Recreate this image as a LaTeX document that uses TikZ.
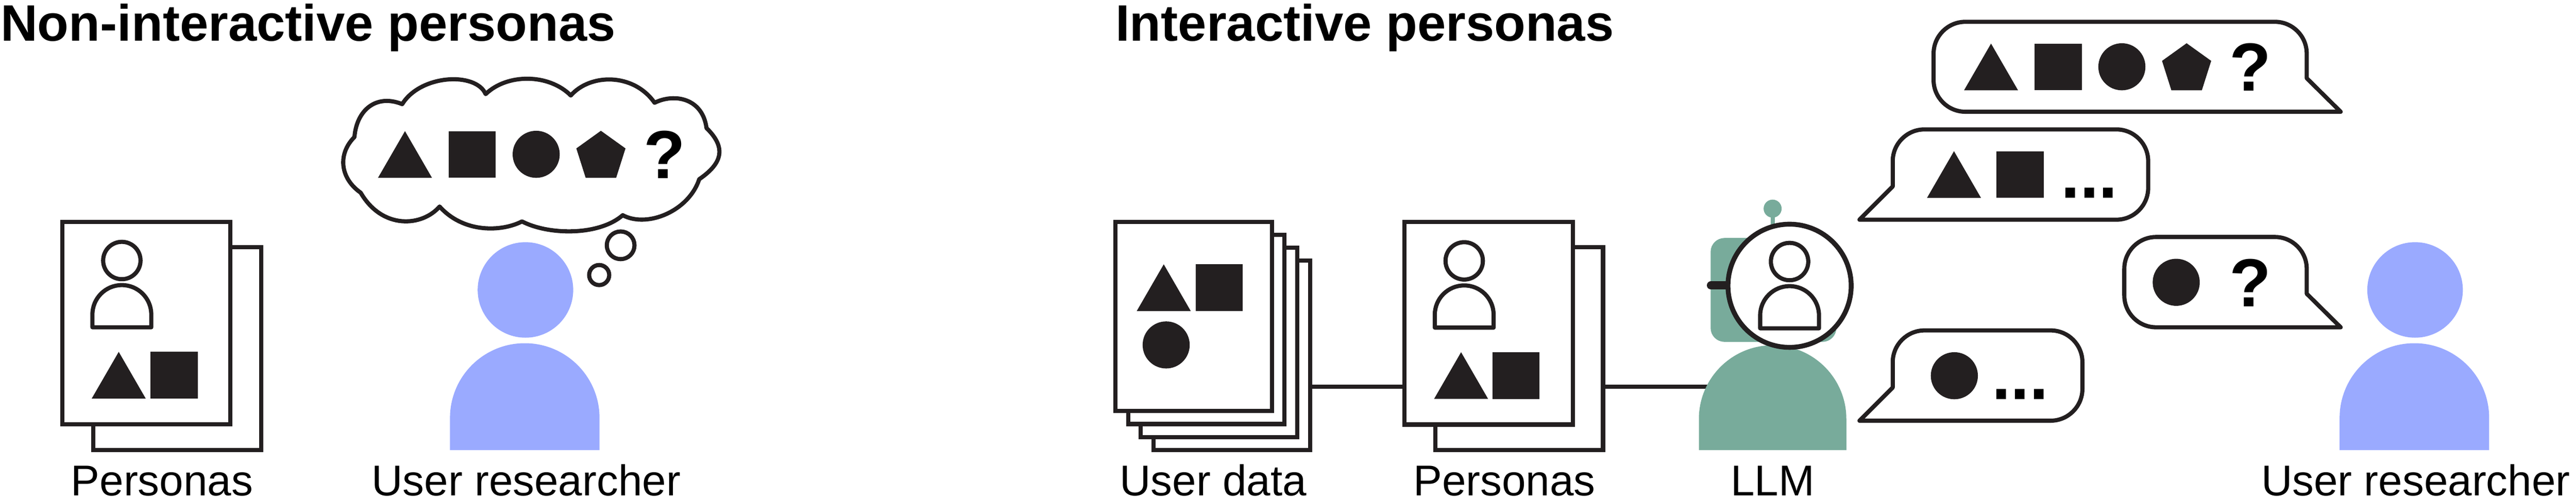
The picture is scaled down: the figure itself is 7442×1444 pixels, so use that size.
\documentclass[tikz,border=0pt]{standalone}
\usepackage{fontspec}
\setmainfont{Liberation Sans}
\usepackage{tikz}
\definecolor{ink}{HTML}{231F20}
\definecolor{userblue}{HTML}{9AAAFF}
\definecolor{botgreen}{HTML}{78AB9B}
\tikzset{
	page/.style={rectangle, draw=ink, fill=white, line width=0.12cm, inner sep=0pt},
	outline/.style={draw=ink, line width=0.12cm, line join=round},
	wire/.style={draw=ink, line width=0.12cm},
	heading/.style={anchor=base west, inner sep=0pt, font=\fontsize{42.1}{48}\selectfont\bfseries},
	caption/.style={anchor=base, inner sep=0pt, font=\fontsize{35.4}{40}\selectfont},
	qmark/.style={anchor=base, inner sep=0pt, font=\fontsize{56}{60}\selectfont\bfseries},
	more/.style={anchor=base, inner sep=0pt, font=\fontsize{55.7}{60}\selectfont\bfseries}
}
\newcommand{\tri}[2]{\fill[ink] (#1-78,#2) -- (#1+78,#2) -- (#1,#2-135) -- cycle;}
\newcommand{\sqr}[2]{\fill[ink] (#1-68,#2) rectangle (#1+68,#2-135);}
\newcommand{\disc}[2]{\fill[ink] (#1,#2-68) circle (68);}
\newcommand{\pent}[2]{\fill[ink] (#1,#2-136) -- (#1+71,#2-85) -- (#1+44,#2) -- (#1-44,#2) -- (#1-71,#2-85) -- cycle;}
\newcommand{\personicon}[2]{
	\draw[outline] (#1,#2) circle (54);
	\draw[outline] (#1-85,#2+193) -- (#1-85,#2+156) arc (180:360:85) -- (#1+85,#2+193) -- cycle;
}
% fill colour, centre, half width, top
\newcommand{\torso}[4]{\fill[#1] (#2-#3,1301) -- (#2-#3,#4+#3) arc (180:360:#3) -- (#2+#3,1301) -- cycle;}
% left, right, top, bottom
\newcommand{\bubbleright}[4]{
	\draw[outline, fill=white] (#1+92,#3) -- (#2-92,#3) arc (270:360:92) -- (#2,#4-97)
		-- (#2+98,#4) -- (#1+92,#4) arc (90:180:92) -- (#1,#3+92) arc (180:270:92) -- cycle;
}
\newcommand{\bubbleleft}[4]{
	\draw[outline, fill=white] (#1+92,#3) -- (#2-92,#3) arc (270:360:92) -- (#2,#4-92)
		arc (0:90:92) -- (#1-96,#4) -- (#1,#4-96) -- (#1,#3+92) arc (180:270:92) -- cycle;
}
\begin{document}
\begin{tikzpicture}[x=0.01cm, y=-0.01cm]
	\useasboundingbox (0,0) rectangle (7442,1444);
	\node (TA) [heading] at (1,118) {Non-interactive personas};
	\node (TB) [heading] at (3222,118) {Interactive personas};

	% non-interactive side
	\node (NB) [page, minimum width=4.84cm, minimum height=5.85cm] at (512,1007.5) {};
	\node (NA) [page, minimum width=4.85cm, minimum height=5.85cm] at (422.5,933.5) {};
	\personicon{352}{753}
	\tri{343}{1152}
	\sqr{503}{1152}
	\node (NL) [caption] at (468,1432) {Personas};

	\draw[outline, fill=white] (1162,301)
		.. controls (1215,215) and (1375,207) .. (1403,272)
		.. controls (1465,212) and (1585,212) .. (1649,276)
		.. controls (1705,212) and (1830,210) .. (1891,297)
		.. controls (1950,268) and (2030,285) .. (2041,370)
		.. controls (2097,425) and (2090,470) .. (2020,518)
		.. controls (1990,610) and (1870,660) .. (1799,622)
		.. controls (1730,682) and (1585,680) .. (1508,640)
		.. controls (1450,670) and (1340,675) .. (1270,597)
		.. controls (1220,655) and (1105,665) .. (1042,557)
		.. controls (982,515) and (975,445) .. (1024,396)
		.. controls (1030,320) and (1085,270) .. (1162,301) -- cycle;
	\tri{1170}{514}
	\sqr{1364}{514}
	\disc{1549}{514}
	\pent{1736}{514}
	\node (QA) [qmark] at (1920,516) {?};
	\draw[outline] (1793,709) circle (40);
	\draw[outline] (1731,795) circle (29);

	\fill[userblue] (1518,838) circle (138);
	\torso{userblue}{1516}{216}{992}
	\node (RA) [caption] at (1520,1432) {User researcher};

	% interactive side
	\coordinate (WL) at (0,1118);
	\coordinate (LL) at (5121,1118);
	\node (DD) [page, minimum width=4.52cm, minimum height=5.47cm] at (3559,1027) {};
	\node (DC) [page, minimum width=4.52cm, minimum height=5.47cm] at (3522,989.5) {};
	\node (DB) [page, minimum width=4.52cm, minimum height=5.47cm] at (3485,952) {};
	\node (DA) [page, minimum width=4.52cm, minimum height=5.47cm] at (3448,914.5) {};
	\tri{3362}{899}
	\sqr{3522}{899}
	\disc{3369}{1065}
	\node (DL) [caption] at (3505,1432) {User data};

	\node (PB) [page, minimum width=4.84cm, minimum height=5.87cm] at (4389,1007.5) {};
	\node (PA) [page, minimum width=4.86cm, minimum height=5.86cm] at (4301,934) {};
	\personicon{4230}{754}
	\tri{4221}{1153}
	\sqr{4380}{1153}
	\node (PL) [caption] at (4346,1432) {Personas};

	\draw [wire] (DD.east |- WL) -- (PA.west |- WL);
	\draw [wire] (PB.east |- WL) -- (LL);

	\fill[botgreen] (5121,603) circle (26);
	\draw[botgreen, line width=0.12cm] (5121,620) -- (5121,700);
	\node (LH) [rectangle, fill=botgreen, rounded corners=0.4cm, inner sep=0pt,
		minimum width=3.63cm, minimum height=3cm] at (5123.5,838) {};
	\draw[ink, line width=0.24cm, line cap=round] (4943,825) -- (5010,825);
	\torso{botgreen}{5121}{213}{998}
	\draw[ink, line width=0.14cm, fill=white] (5170,826) circle (178);
	\personicon{5170}{756}
	\node (LM) [caption] at (5121,1432) {LLM};

	\bubbleright{5586}{6664}{63}{323}
	\tri{5752}{261}
	\sqr{5946}{261}
	\disc{6130}{261}
	\pent{6317}{261}
	\node (QB) [qmark] at (6501,263) {?};

	\bubbleleft{5468}{6206}{374}{635}
	\tri{5645}{572}
	\sqr{5836}{572}
	\node (MA) [more] at (6036,573) {...};

	\bubbleright{6137}{6664}{685}{946}
	\disc{6287}{884}
	\node (QC) [qmark] at (6501,886) {?};

	\bubbleleft{5468}{6016}{955}{1216}
	\disc{5646}{1154}
	\node (MB) [more] at (5836,1154) {...};

	\fill[userblue] (6977,838) circle (138);
	\torso{userblue}{6975}{216}{992}
	\node (RB) [caption] at (6979,1432) {User researcher};
\end{tikzpicture}
\end{document}
